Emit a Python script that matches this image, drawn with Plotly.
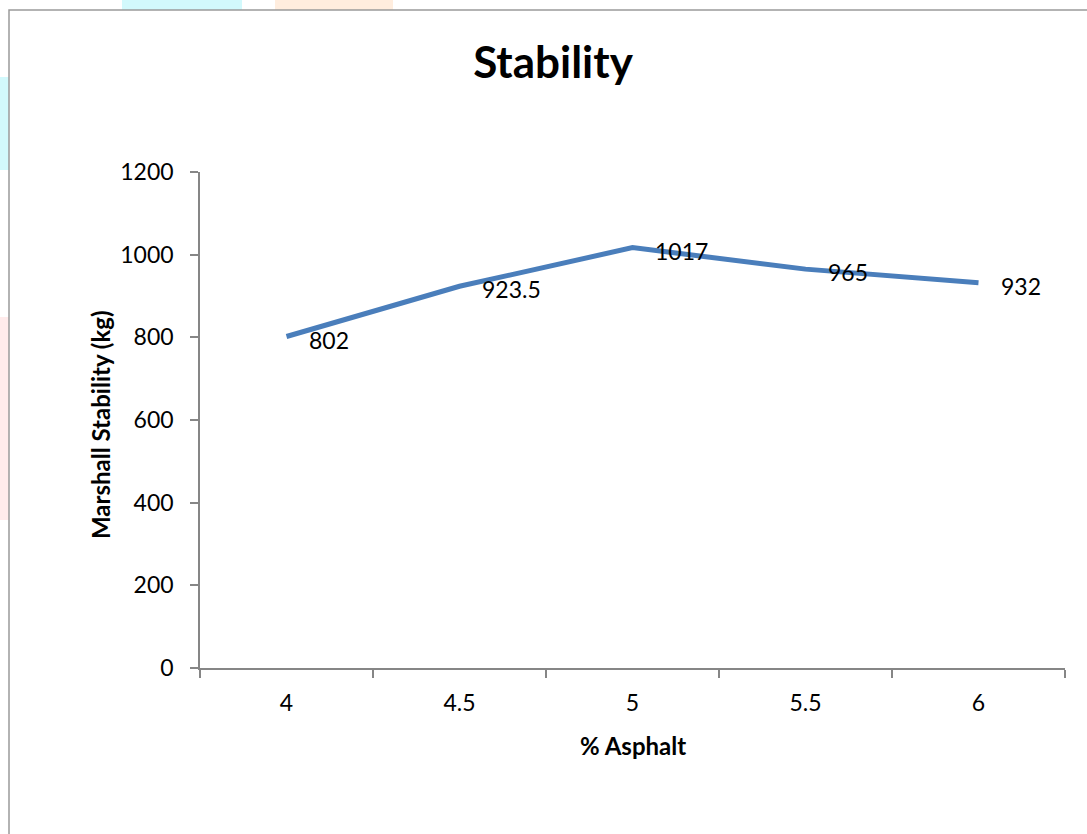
import plotly.graph_objects as go

asphalt = ["4", "4.5", "5", "5.5", "6"]
stability = [802, 923.5, 1017, 965, 932]
labels = ["802", "923.5", "1017", "965", "932"]

W, H = 1087, 834
L, R, T, B = 200, 22, 172, 166
pw, ph = W - L - R, H - T - B
font = "Lato, Carlito, sans-serif"


def px_x(x):
    return (x - L) / pw


def px_y(y):
    return (H - B - y) / ph


fig = go.Figure()
fig.add_trace(go.Scatter(
    x=asphalt, y=stability, mode="lines",
    line=dict(color="#4a7ebb", width=5),
    cliponaxis=False, showlegend=False, hoverinfo="x+y",
))

# data labels placed to the right of each point (category index positions)
for i, (yv, tv) in enumerate(zip(stability, labels)):
    fig.add_annotation(x=i, y=yv, text=tv, showarrow=False,
                       xanchor="left", yanchor="middle", xshift=20, yshift=-3,
                       font=dict(family=font, size=23, color="black"))

fig.update_layout(
    width=W, height=H,
    margin=dict(l=L, r=R, t=T, b=B),
    paper_bgcolor="white", plot_bgcolor="white",
    title=dict(text="<b>Stability</b>", x=553 / W, xanchor="center",
               y=1 - 63 / H, yanchor="middle",
               font=dict(family=font, size=44, color="black")),
    xaxis=dict(type="category", range=[-0.5, 4.5], tickson="boundaries",
               ticks="outside", ticklen=8, tickcolor="#868686", tickwidth=1.5,
               showline=True, linecolor="#868686", linewidth=1.5,
               showgrid=False, zeroline=False, ticklabelstandoff=14,
               tickfont=dict(family=font, size=23, color="black")),
    yaxis=dict(range=[0, 1200], dtick=200, ticks="outside", ticklen=8,
               tickcolor="#868686", tickwidth=1.5, showline=True,
               linecolor="#868686", linewidth=1.5, showgrid=False,
               zeroline=False, ticklabelstandoff=12,
               tickfont=dict(family=font, size=23, color="black")),
)

# axis titles
fig.add_annotation(xref="paper", yref="paper", x=px_x(633), y=px_y(745),
                   text="<b>% Asphalt</b>", showarrow=False,
                   xanchor="center", yanchor="middle",
                   font=dict(family=font, size=24, color="black"))
fig.add_annotation(xref="paper", yref="paper", x=px_x(100), y=px_y(425),
                   text="<b>Marshall Stability (kg)</b>", showarrow=False,
                   textangle=-90, xanchor="center", yanchor="middle",
                   font=dict(family=font, size=24, color="black"))

# faint background artifacts behind the chart frame
bg = [
    (122, 0, 242, 10, "rgba(180,245,250,0.6)"),
    (275, 0, 393, 10, "rgba(255,225,200,0.6)"),
    (0, 77, 9, 170, "rgba(180,245,250,0.6)"),
    (0, 317, 9, 520, "rgba(255,215,215,0.5)"),
]
for x0, y0, x1, y1, c in bg:
    fig.add_shape(type="rect", xref="paper", yref="paper",
                  x0=px_x(x0), x1=px_x(x1), y0=px_y(y1), y1=px_y(y0),
                  line=dict(width=0), fillcolor=c, layer="below")

# chart frame
fig.add_shape(type="rect", xref="paper", yref="paper",
              x0=px_x(9), x1=px_x(W + 20), y0=px_y(H + 20), y1=px_y(10),
              line=dict(color="#9a9a9a", width=1.5), fillcolor="rgba(0,0,0,0)")

fig.write_html("out.html", config={"displayModeBar": False},
               post_script="document.body.style.margin='0px';")
